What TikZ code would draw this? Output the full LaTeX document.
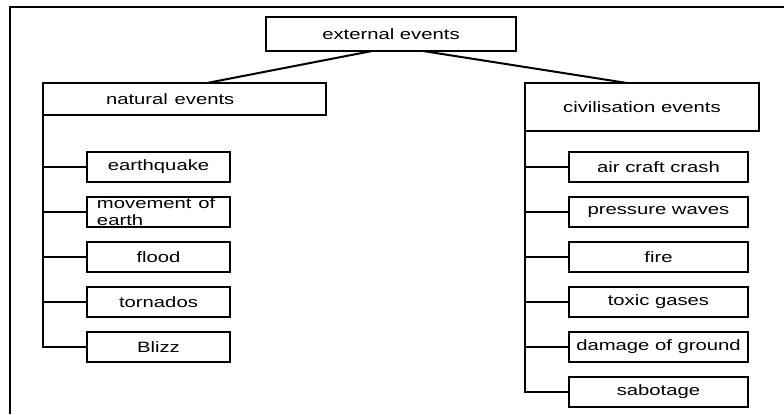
\documentclass[tikz,border=0pt]{standalone}
\usepackage{fontspec}
\setmainfont{Liberation Sans}
\usepackage{graphicx}
\usetikzlibrary{positioning}
\newcommand{\wide}[1]{\scalebox{1.35}[1]{#1}}

\begin{document}
\begin{tikzpicture}[
    node distance=7.5pt,
    font=\fontsize{7.5}{8}\selectfont,
    box/.style={draw, line width=1pt, outer sep=0pt, inner sep=0pt, align=center},
    head/.style={box, minimum width=125pt, minimum height=17pt},
    group/.style={box, minimum height=16pt},
    natev/.style={box, minimum width=71.5pt, minimum height=15pt},
    civev/.style={box, minimum width=89.5pt, minimum height=15pt},
    conn/.style={line width=1pt}
]
\useasboundingbox (0,0) rectangle (392pt,-207pt);
\draw[line width=0.6pt] (5pt,-207pt) |- (392pt,-3.5pt);

\node[head] (ext) at (195.5pt,-17pt) {\wide{external events}};
\node[group, minimum width=141.5pt, text width=78.5pt, inner xsep=31.5pt, align=left] (natural) at (92.25pt,-49.5pt) {\wide{natural events}};
\node[group, minimum width=117pt, minimum height=24pt] (civil) at (321pt,-53.5pt) {\wide{civilisation events}};

\node[natev] (quake) at (79.25pt,-83.5pt) {\wide{earthquake}};
\node[natev, below=of quake, text width=61.5pt, inner xsep=5pt, align=left] (move) {\wide{\shortstack[l]{movement of\\earth}}};
\node[natev, below=of move] (flood) {\wide{flood}};
\node[natev, below=of flood] (torn) {\wide{tornados}};
\node[natev, below=of torn] (blizz) {\wide{Blizz}};

\node[civev] (crash) at (329.25pt,-83.5pt) {\wide{air craft crash}};
\node[civev, below=of crash] (press) {\wide{pressure waves}};
\node[civev, below=of press] (fire) {\wide{fire}};
\node[civev, below=of fire] (toxic) {\wide{toxic gases}};
\node[civev, below=of toxic] (ground) {\wide{damage of ground}};
\node[civev, below=of ground] (sabo) {\wide{sabotage}};

\draw[conn] ([xshift=-9.5pt]ext.south) -- ([xshift=11.25pt]natural.north);
\draw[conn] ([xshift=16pt]ext.south) -- ([xshift=-7.5pt]civil.north);

\draw[conn] (natural.south west) |- (quake.west);
\draw[conn] (natural.south west) |- (move.west);
\draw[conn] (natural.south west) |- (flood.west);
\draw[conn] (natural.south west) |- (torn.west);
\draw[conn] (natural.south west) |- (blizz.west);

\draw[conn] (civil.south west) |- (crash.west);
\draw[conn] (civil.south west) |- (press.west);
\draw[conn] (civil.south west) |- (fire.west);
\draw[conn] (civil.south west) |- (toxic.west);
\draw[conn] (civil.south west) |- (ground.west);
\draw[conn] (civil.south west) |- (sabo.west);
\end{tikzpicture}
\end{document}
